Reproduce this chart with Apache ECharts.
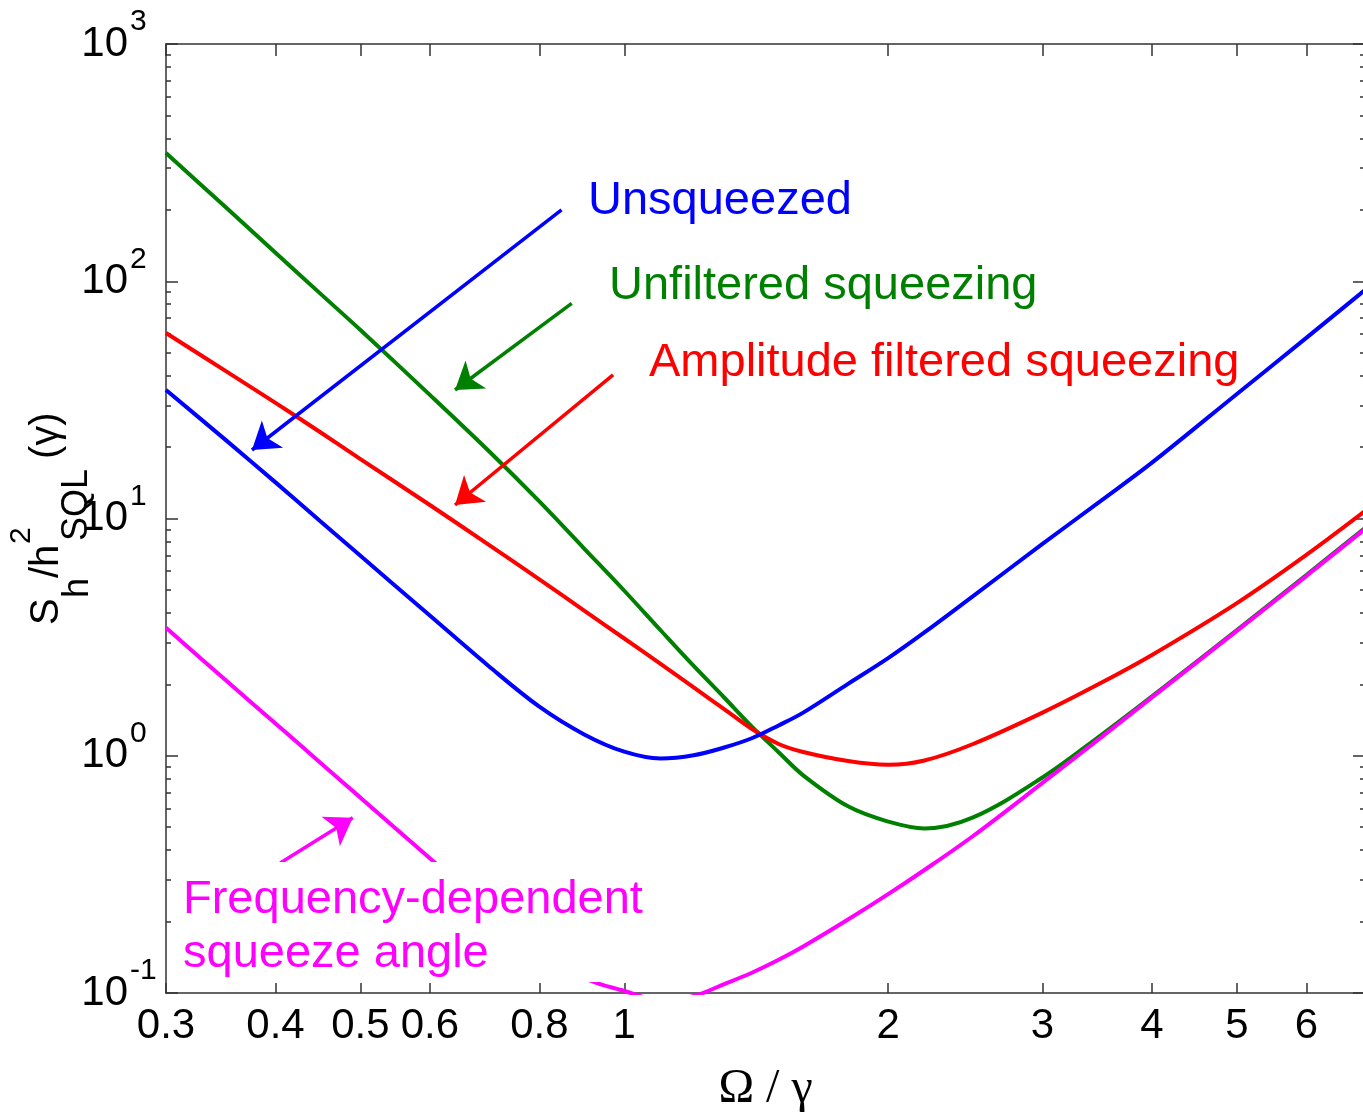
<!DOCTYPE html>
<html><head><meta charset="utf-8">
<script src="https://cdn.jsdelivr.net/npm/echarts@6/dist/echarts.min.js"></script>
<style>html,body{margin:0;padding:0;background:#fff}#c{width:1363px;height:1113px}</style>
</head><body><div id="c"></div>
<script>
// ---- data ----
const omega = [0.3,0.35,0.4,0.45,0.5,0.6,0.7,0.8,0.9,1.0,1.1,1.2,1.3,1.4,1.5,1.6,1.8,2.0,2.2,2.5,3,3.5,4,5,6,7];
const unsqueezed = [34.8,21.6,14.2,9.73,6.96,3.90,2.39,1.61,1.23,1.04,0.974,1.005,1.083,1.188,1.342,1.52,2.01,2.58,3.31,4.71,7.81,11.9,17.2,33.5,57.7,91.9];
const unfiltered = [347,206.9,131.9,88.7,62.3,33.2,19.3,11.8,7.47,4.96,3.38,2.39,1.76,1.32,1.035,0.827,0.612,0.528,0.494,0.550,0.810,1.223,1.78,3.39,5.78,9.12];
const amplitudeFiltered = [60.5,42.1,30.7,23.1,17.8,11.4,7.76,5.54,4.09,3.12,2.44,1.94,1.573,1.293,1.121,1.037,0.950,0.916,0.955,1.121,1.52,2.03,2.66,4.40,7.02,10.75];
const freqDependent = [3.46,2.10,1.368,0.935,0.666,0.370,0.228,0.158,0.116,0.102,0.0934,0.0971,0.109,0.122,0.138,0.157,0.204,0.261,0.330,0.459,0.768,1.195,1.762,3.36,5.72,9.03];

const xTickLabels = [0.3,0.4,0.5,0.6,0.8,1,2,3,4,5,6];
const yTickExponents = [-1,0,1,2,3];

// annotation arrows: [tail, tip] in data coordinates
const arrowUnsqueezed = [[0.848,199.7],[0.376,19.44]];
const arrowUnfiltered = [[0.871,80.7],[0.641,34.8]];
const arrowAmplitude = [[0.971,40.3],[0.641,11.4]];
const arrowFreqDep = [[0.405,0.353],[0.490,0.548]];

// ---- chart ----
const SANS = '"Liberation Sans", Arial, Helvetica, sans-serif';
const AX = '#333';
const L10 = Math.log10;
const xTicks = xTickLabels.map(L10);
const yMinor = [];
for (let e = -1; e < 3; e++) for (let k = 2; k <= 9; k++) yMinor.push(e + L10(k));
const xMin = L10(0.3), xMax = L10(7);

function xFmt(v) {
  let best = xTickLabels[0], d = 1e9;
  xTickLabels.forEach(t => { const dd = Math.abs(L10(t) - v); if (dd < d) { d = dd; best = t; } });
  return String(best);
}

function mkSeries(name, ys, color, arrow) {
  return {
    name, type: 'line', xAxisIndex: 0, yAxisIndex: 0,
    data: omega.map((x, i) => [x, ys[i]]),
    showSymbol: false, symbol: 'none', clip: true, smooth: 0.35,
    lineStyle: { color, width: 4 }, itemStyle: { color },
    emphasis: { disabled: true }, silent: true, animation: false,
    markLine: {
      silent: true, animation: false,
      symbol: ['none', 'arrow'], symbolSize: 26,
      label: { show: false },
      lineStyle: { type: 'solid', width: 3.5, color },
      emphasis: { disabled: true },
      data: [[{ coord: arrow[0] }, { coord: arrow[1] }]]
    }
  };
}

const tickStyle = { color: AX, width: 1.5 };
const lineStyle = { color: AX, width: 1.5 };

const option = {
  animation: false,
  backgroundColor: '#fff',
  grid: { left: 166, top: 44, width: 1199, height: 949, containLabel: false, outerBoundsMode: 'none' },
  xAxis: [
    { type: 'log', min: 0.3, max: 7, show: false },
    { type: 'value', min: xMin, max: xMax, position: 'bottom',
      axisLine: { show: true, onZero: false, lineStyle },
      axisTick: { show: true, inside: true, length: 10, customValues: xTicks, lineStyle: tickStyle },
      axisLabel: { show: true, customValues: xTicks, formatter: xFmt, fontSize: 42, fontFamily: SANS, color: '#000', margin: 12 },
      splitLine: { show: false },
      name: 'Ω / γ', nameLocation: 'middle', nameGap: 72,
      nameTextStyle: { fontSize: 48, fontFamily: '"Liberation Serif", "Times New Roman", serif', color: '#000' }
    },
    { type: 'value', min: xMin, max: xMax, position: 'top',
      axisLine: { show: true, onZero: false, lineStyle },
      axisTick: { show: true, inside: true, length: 12, customValues: xTicks, lineStyle: tickStyle },
      axisLabel: { show: false }, splitLine: { show: false }
    }
  ],
  yAxis: [
    { type: 'log', min: 0.1, max: 1000, show: false },
    { type: 'value', min: -1, max: 3, position: 'left',
      axisLine: { show: true, onZero: false, lineStyle },
      axisTick: { show: true, inside: true, length: 12, customValues: yTickExponents, lineStyle: tickStyle },
      axisLabel: { show: true, customValues: yTickExponents, formatter: () => '10', fontSize: 42, fontFamily: SANS, color: '#000', margin: 38, align: 'right' },
      splitLine: { show: false }
    },
    { type: 'value', min: -1, max: 3, position: 'left',
      axisLine: { show: false, onZero: false },
      axisTick: { show: true, inside: true, length: 5, customValues: yMinor, lineStyle: tickStyle },
      axisLabel: { show: true, customValues: yTickExponents, formatter: v => String(Math.round(v)), fontSize: 30, lineHeight: 44, fontFamily: SANS, color: '#000', margin: 36, align: 'left', verticalAlign: 'bottom' },
      splitLine: { show: false }
    },
    { type: 'value', min: -1, max: 3, position: 'right',
      axisLine: { show: true, onZero: false, lineStyle },
      axisTick: { show: true, inside: true, length: 12, customValues: yTickExponents, lineStyle: tickStyle },
      axisLabel: { show: false }, splitLine: { show: false }
    },
    { type: 'value', min: -1, max: 3, position: 'right',
      axisLine: { show: false, onZero: false },
      axisTick: { show: true, inside: true, length: 5, customValues: yMinor, lineStyle: tickStyle },
      axisLabel: { show: false }, splitLine: { show: false }
    }
  ],
  series: [
    mkSeries('Unfiltered squeezing', unfiltered, '#008000', arrowUnfiltered),
    mkSeries('Amplitude filtered squeezing', amplitudeFiltered, '#ff0000', arrowAmplitude),
    mkSeries('Unsqueezed', unsqueezed, '#0000ff', arrowUnsqueezed),
    mkSeries('Frequency-dependent squeeze angle', freqDependent, '#ff00ff', arrowFreqDep)
  ],
  graphic: [
    { type: 'rect', z: 10, silent: true, shape: { x: 172, y: 862, width: 483, height: 120 }, style: { fill: '#fff' } },
    { type: 'text', z: 11, x: 588, y: 201, style: { text: 'Unsqueezed', fill: '#0000ff', font: '47px ' + SANS, verticalAlign: 'middle', align: 'left' } },
    { type: 'text', z: 11, x: 609, y: 286, style: { text: 'Unfiltered squeezing', fill: '#008000', font: '47px ' + SANS, verticalAlign: 'middle', align: 'left' } },
    { type: 'text', z: 11, x: 649, y: 363, style: { text: 'Amplitude filtered squeezing', fill: '#ff0000', font: '47px ' + SANS, verticalAlign: 'middle', align: 'left' } },
    { type: 'text', z: 11, x: 183, y: 900, style: { text: 'Frequency-dependent', fill: '#ff00ff', font: '47px ' + SANS, verticalAlign: 'middle', align: 'left' } },
    { type: 'text', z: 11, x: 183, y: 954, style: { text: 'squeeze angle', fill: '#ff00ff', font: '47px ' + SANS, verticalAlign: 'middle', align: 'left' } },
    { type: 'group', x: 47, y: 625, rotation: Math.PI / 2, z: 11, children: [
      { type: 'text', x: 0, y: 0, style: { text: 'S', fill: '#000', font: '40px ' + SANS, verticalAlign: 'middle', align: 'left' } },
      { type: 'text', x: 27, y: 31, style: { text: 'h', fill: '#000', font: '36px ' + SANS, verticalAlign: 'middle', align: 'left' } },
      { type: 'text', x: 47, y: 0, style: { text: '/h', fill: '#000', font: '40px ' + SANS, verticalAlign: 'middle', align: 'left' } },
      { type: 'text', x: 81, y: -25, style: { text: '2', fill: '#000', font: '30px ' + SANS, verticalAlign: 'middle', align: 'left' } },
      { type: 'text', x: 84, y: 30, style: { text: 'SQL', fill: '#000', font: '36px ' + SANS, verticalAlign: 'middle', align: 'left' } },
      { type: 'text', x: 166, y: 0, style: { text: '(γ)', fill: '#000', font: '40px ' + SANS, verticalAlign: 'middle', align: 'left' } }
    ] }
  ]
};

const chart = echarts.init(document.getElementById('c'), null, { renderer: 'canvas' });
chart.setOption(option);
</script>
</body></html>
